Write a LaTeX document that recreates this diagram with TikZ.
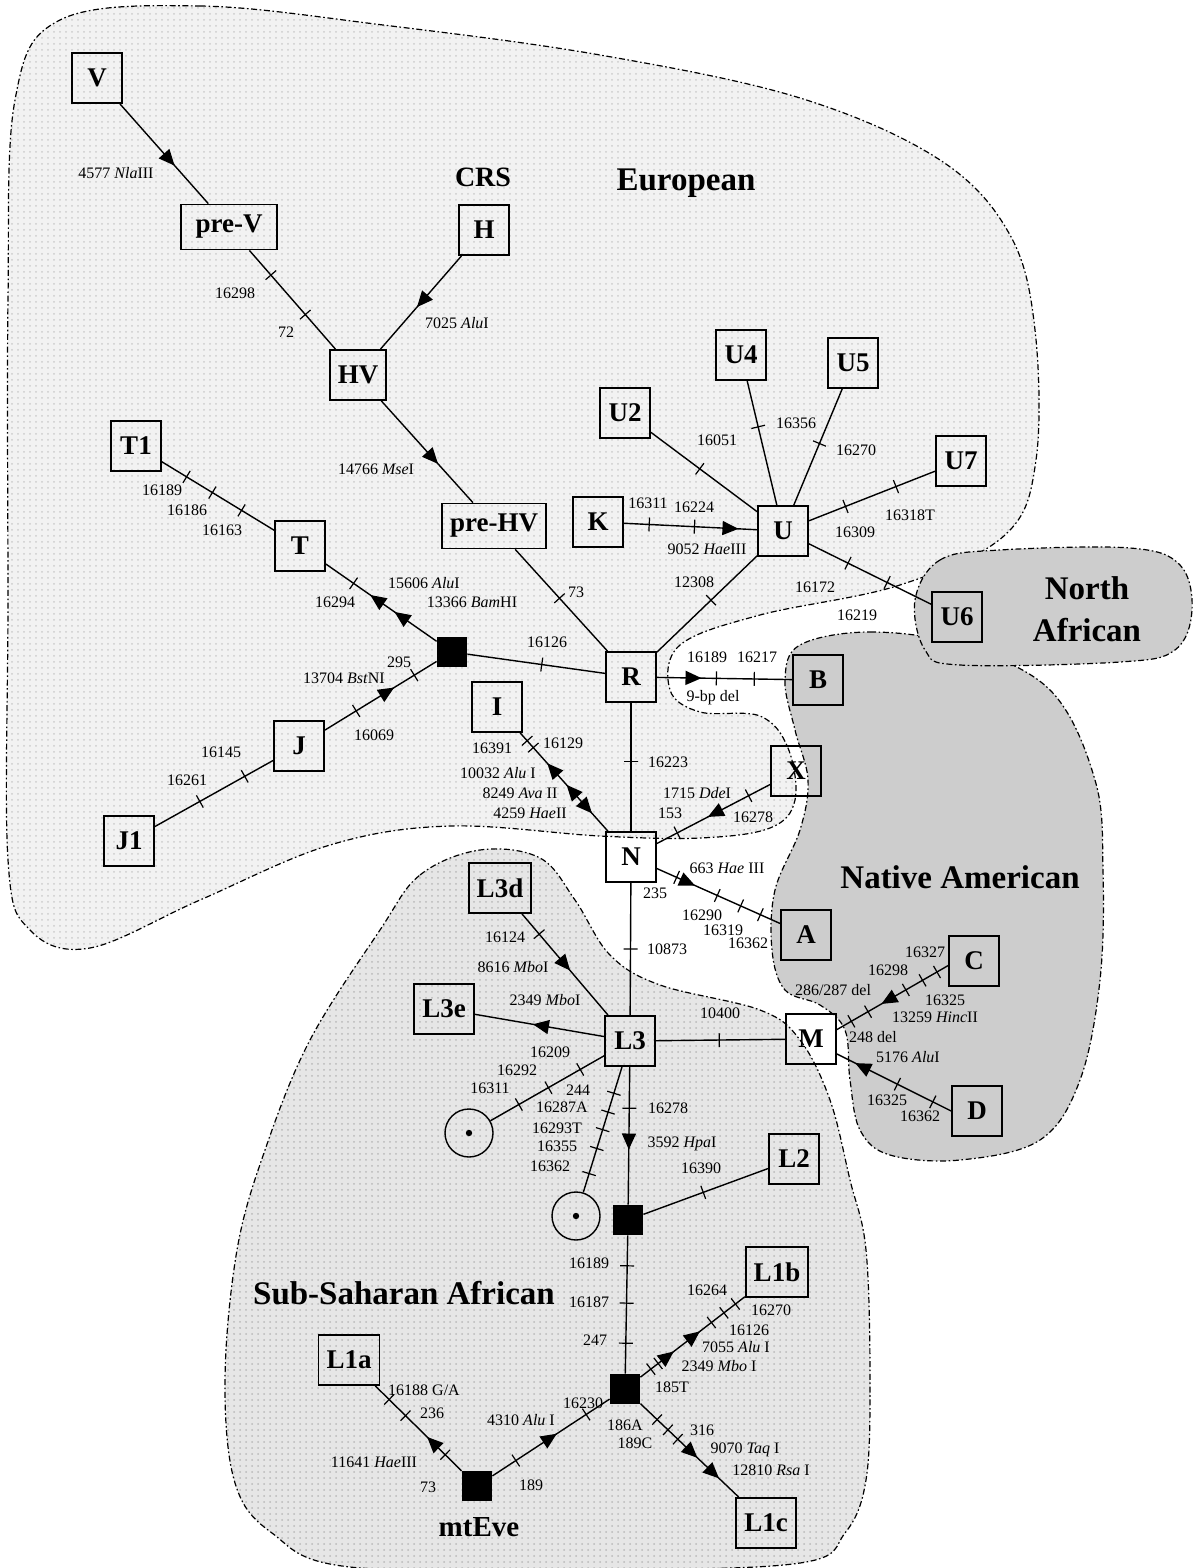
\documentclass[tikz,border=0pt]{standalone}
\usepackage{fontspec}
\setmainfont{Liberation Serif}
\usetikzlibrary{arrows.meta,decorations.markings,patterns}

\definecolor{euroFill}{RGB}{242,242,242}
\definecolor{afroFill}{RGB}{230,230,230}
\definecolor{amerFill}{RGB}{205,205,205}

\tikzset{
  hap/.style={draw, line width=0.9pt, minimum width=25pt, minimum height=25pt, inner sep=4pt,
    font=\fontsize{13.5}{15}\selectfont\bfseries},
  blk/.style={fill=black, minimum size=15pt, inner sep=0pt},
  ring/.style={draw, circle, line width=0.7pt, minimum size=24pt, inner sep=0pt},
  tk/.style={draw, sloped, line width=0.6pt, inner sep=0pt, minimum width=0pt, minimum height=7pt},
  lbl/.style={font=\fontsize{8}{9}\selectfont, inner sep=0pt},
  reg/.style={font=\fontsize{16.5}{21}\selectfont\bfseries, align=center},
  zone/.style={line width=0.6pt, dash pattern=on 3pt off 1.3pt on 0.8pt off 1.3pt},
  link/.style={line width=0.7pt},
  arw/.style={postaction={decorate, decoration={markings,
      mark=at position #1 with {\arrow{Triangle[length=8pt,width=7pt]}}}}},
  arwr/.style={postaction={decorate, decoration={markings,
      mark=at position #1 with {\arrowreversed{Triangle[length=8pt,width=7pt]}}}}}
}

\begin{document}
\begin{tikzpicture}[x=0.5pt, y=-0.5pt]
\useasboundingbox (0,0) rectangle (1195,1568);

% regions
\draw[zone, preaction={fill=euroFill}, pattern=dots, pattern color=gray!40]
  plot[smooth cycle, tension=0.6] coordinates {(60,20) (200,6) (383,25) (600,55) (800,98) (940,160)
  (1010,235) (1035,330) (1036,460) (1005,535) (900,585) (760,615) (680,645) (670,690) (700,712)
  (760,716) (788,748) (795,800) (770,828) (700,838) (600,836) (450,826) (330,845) (200,900)
  (90,948) (30,930) (8,860) (8,600) (8,300) (15,100)};
\draw[zone, preaction={fill=afroFill}, pattern=dots, pattern color=gray!55]
  plot[smooth cycle, tension=0.6] coordinates {(380,930) (420,875) (480,850) (540,858) (575,900)
  (610,955) (660,985) (760,1010) (800,1040) (830,1100) (850,1180) (866,1250) (870,1380) (866,1480)
  (845,1533) (800,1563) (600,1570) (350,1567) (272,1533) (235,1483) (225,1380) (237,1250)
  (265,1150) (310,1040)};
\draw[zone, fill=amerFill]
  plot[smooth cycle, tension=0.6] coordinates {(800,645) (870,632) (960,645) (1050,690) (1095,780)
  (1103,870) (1100,980) (1080,1080) (1040,1140) (960,1160) (890,1155) (860,1130) (850,1080)
  (845,1030) (820,1005) (785,990) (772,950) (775,890) (800,830) (808,780) (795,730) (785,680)};
\draw[zone, fill=amerFill]
  plot[smooth cycle, tension=0.6] coordinates {(915,600) (940,560) (1000,550) (1130,548) (1180,565)
  (1192,610) (1175,650) (1120,662) (960,665) (925,650)};

% haplogroups
\node[hap] (V) at (97,78) {V};
\node[hap, minimum width=48pt, minimum height=22.5pt] (preV) at (229,227) {pre-V};
\node[hap] (H) at (484,230) {H};
\node[hap] (HV) at (358,375) {HV};
\node[hap] (U4) at (741,355) {U4};
\node[hap] (U5) at (853,363) {U5};
\node[hap] (U2) at (625,413) {U2};
\node[hap] (T1) at (136,446) {T1};
\node[hap] (U7) at (961,461) {U7};
\node[hap] (K) at (598,522) {K};
\node[hap] (U) at (783,531) {U};
\node[hap, minimum height=22.5pt] (preHV) at (494,526) {pre-HV};
\node[hap] (T) at (300,546) {T};
\node[hap] (U6) at (957,617) {U6};
\node[blk] (sq1) at (452,652) {};
\node[hap] (R) at (631,677) {R};
\node[hap] (B) at (818,680) {B};
\node[hap] (I) at (497,707) {I};
\node[hap] (J) at (299,746) {J};
\node[hap] (X) at (796,771) {X};
\node[hap] (J1) at (129,841) {J1};
\node[hap] (N) at (631,857) {N};
\node[hap] (L3d) at (500,888) {L3d};
\node[hap] (A) at (806,935) {A};
\node[hap] (C) at (974,961) {C};
\node[hap] (L3e) at (444,1009) {L3e};
\node[hap] (L3) at (630,1041) {L3};
\node[hap] (M) at (811,1039) {M};
\node[hap] (D) at (977,1111) {D};
\node[ring] (c1) at (469,1133) {};
\node[ring] (c2) at (576,1216) {};
\fill (c1) circle (1.6pt) (c2) circle (1.6pt);
\node[hap] (L2) at (794,1159) {L2};
\node[blk] (sq2) at (628,1220) {};
\node[hap] (L1b) at (777,1272) {L1b};
\node[hap] (L1a) at (349,1360) {L1a};
\node[blk] (sq3) at (625,1389) {};
\node[blk] (eve) at (477,1486) {};
\node[hap] (L1c) at (766,1523) {L1c};

% region names
\node[reg, font=\fontsize{14}{16}\selectfont\bfseries] (crs) at (483,177) {CRS};
\node[reg] (eur) at (686,183) {European};
\node[reg] (naf) at (1087,609) {North\\African};
\node[reg] (nam) at (960,877) {Native American};
\node[reg] (ssa) at (404,1293) {Sub-Saharan African};
\node[reg, font=\fontsize{14.5}{16}\selectfont\bfseries] (evename) at (479,1527) {mtEve};

% links
\draw[link, arw=.62] (V) -- (preV);
\draw[link] (preV) -- (HV) node[tk,pos=.25]{} node[tk,pos=.65]{};
\draw[link, arw=.55] (H) -- (HV);
\draw[link, arw=.62] (HV) -- (preHV);
\draw[link] (preHV) -- (R) node[tk,pos=.48]{};
\draw[link, arw=.86] (K) -- (U) node[tk,pos=.19]{} node[tk,pos=.53]{};
\draw[link] (U2) -- (U) node[tk,pos=.46]{};
\draw[link] (U4) -- (U) node[tk,pos=.37]{};
\draw[link] (U5) -- (U) node[tk,pos=.47]{};
\draw[link] (U7) -- (U) node[tk,pos=.31]{} node[tk,pos=.71]{};
\draw[link] (U) -- (U6) node[tk,pos=.32]{} node[tk,pos=.64]{};
\draw[link] (U) -- (R) node[tk,pos=.46]{};
\draw[link] (sq1) -- (R) node[tk,pos=.54]{};
\draw[link, arw=.38, arw=.6] (sq1) -- (T) node[tk,pos=.75]{};
\draw[link] (T1) -- (T) node[tk,pos=.22]{} node[tk,pos=.45]{} node[tk,pos=.71]{};
\draw[link, arw=.62] (J) -- (sq1) node[tk,pos=.28]{} node[tk,pos=.8]{};
\draw[link] (J1) -- (J) node[tk,pos=.38]{} node[tk,pos=.76]{};
\draw[link, arwr=.31, arwr=.53, arw=.82] (I) -- (N) node[tk,pos=.08]{} node[tk,pos=.15]{};
\draw[link] (R) -- (N) node[tk,pos=.46]{};
\draw[link, arw=.33] (R) -- (B) node[tk,pos=.44]{} node[tk,pos=.72]{};
\draw[link, arw=.55] (X) -- (N) node[tk,pos=.19]{} node[tk,pos=.82]{};
\draw[link, arw=.31] (N) -- (A) node[tk,pos=.16]{} node[tk,pos=.49]{} node[tk,pos=.68]{} node[tk,pos=.84]{};
\draw[link] (N) -- (L3) node[tk,pos=.5]{};
\draw[link, arw=.56] (L3d) -- (L3) node[tk,pos=.2]{};
\draw[link, arw=.55] (L3) -- (L3e);
\draw[link] (L3) -- (M) node[tk,pos=.49]{};
\draw[link] (L3) -- (c1) node[tk,pos=.21]{} node[tk,pos=.49]{} node[tk,pos=.75]{};
\draw[link] (L3) -- (c2) node[tk,pos=.21]{} node[tk,pos=.36]{} node[tk,pos=.5]{} node[tk,pos=.65]{} node[tk,pos=.85]{};
\draw[link, arw=.6] (L3) -- (sq2) node[tk,pos=.3]{};
\draw[link] (sq2) -- (L2) node[tk,pos=.48]{};
\draw[link] (sq2) -- (sq3) node[tk,pos=.22]{} node[tk,pos=.49]{} node[tk,pos=.78]{};
\draw[link, arw=.4] (eve) -- (L1a) node[tk,pos=.19]{} node[tk,pos=.65]{} node[tk,pos=.84]{};
\draw[link, arw=.55] (eve) -- (sq3) node[tk,pos=.2]{} node[tk,pos=.8]{};
\draw[link, arw=.32, arw=.57] (sq3) -- (L1b) node[tk,pos=.1]{} node[tk,pos=.17]{} node[tk,pos=.68]{} node[tk,pos=.8]{} node[tk,pos=.91]{};
\draw[link, arw=.58, arw=.8] (sq3) -- (L1c) node[tk,pos=.17]{} node[tk,pos=.28]{} node[tk,pos=.38]{};
\draw[link, arw=.6] (C.190) -- (M.20) node[tk,pos=.1]{} node[tk,pos=.23]{} node[tk,pos=.38]{} node[tk,pos=.72]{} node[tk,pos=.87]{};
\draw[link, arw=.84] (D.west) -- (M.-30) node[tk,pos=.16]{} node[tk,pos=.47]{};

% mutation labels
\foreach \nm/\x/\y/\t in {
  m4577/116/173/{4577 \textit{Nla}III}, m16298a/235/293/16298, m72/286/332/72,
  m7025/457/323/{7025 \textit{Alu}I}, m14766/376/469/{14766 \textit{Mse}I}, m73a/576/592/73,
  m16311a/648/503/16311, m16224/694/507/16224, m9052/707/549/{9052 \textit{Hae}III},
  m16051/717/440/16051, m16356/796/423/16356, m16270a/856/450/16270,
  m16318/910/515/16318T, m16309/855/532/16309, m16172/815/587/16172, m16219/857/615/16219,
  m12308/694/582/12308, m16126a/547/642/16126, m15606/424/583/{15606 \textit{Alu}I},
  m13366/472/602/{13366 \textit{Bam}HI}, m16294/335/602/16294,
  m16189a/162/490/16189, m16186/187/510/16186, m16163/222/530/16163,
  m16069/374/735/16069, m295/399/662/295, m13704/344/678/{13704 \textit{Bst}NI},
  m16261/187/780/16261, m16145/221/752/16145,
  m16391/492/748/16391, m16129/563/743/16129, m10032/498/773/{10032 \textit{Alu} I},
  m8249/520/793/{8249 \textit{Ava} II}, m4259/530/813/{4259 \textit{Hae}II},
  m16223/668/762/16223, m16189b/707/657/16189, m16217/757/657/16217, m9bp/713/698/{9-bp del},
  m1715/697/793/{1715 \textit{Dde}I}, m153/670/813/153, m16278a/753/817/16278,
  m663/727/868/{663 \textit{Hae} III}, m235/655/893/235, m16290/702/915/16290,
  m16319/723/930/16319, m16362a/748/943/16362, m10873/667/949/10873,
  m16124/505/937/16124, m8616/513/967/{8616 \textit{Mbo}I}, m2349a/545/1000/{2349 \textit{Mbo}I},
  m10400/720/1013/10400, m16209/550/1052/16209, m16292/517/1070/16292, m16311b/490/1088/16311,
  m244/578/1090/244, m16287/562/1107/16287A, m16293/557/1128/16293T, m16355/557/1146/16355,
  m16362b/550/1166/16362, m16278b/668/1108/16278, m3592/682/1144/{3592 \textit{Hpa}I},
  m16390/701/1168/16390, m16189c/589/1263/16189, m16187/589/1302/16187, m247/595/1340/247,
  m16188/424/1390/{16188 G/A}, m236/432/1413/236, m11641/374/1462/{11641 \textit{Hae}III},
  m73b/428/1487/73, m189/531/1485/189, m4310/521/1420/{4310 \textit{Alu} I}, m16230/583/1403/16230,
  m185/672/1387/185T, m2349b/719/1366/{2349 \textit{Mbo} I}, m7055/736/1347/{7055 \textit{Alu} I},
  m16126b/749/1330/16126, m16270b/771/1310/16270, m16264/707/1290/16264,
  m186/625/1425/186A, m189c/635/1443/189C, m316/702/1430/316,
  m9070/745/1450/{9070 \textit{Taq} I}, m12810/771/1470/{12810 \textit{Rsa} I},
  m16327/925/952/16327, m16298b/888/970/16298, m16325a/945/1000/16325,
  m13259/935/1017/{13259 \textit{Hinc}II}, m286/833/990/{286/287 del}, m248/873/1037/{248 del},
  m5176/908/1057/{5176 \textit{Alu}I}, m16325b/887/1100/16325, m16362c/920/1116/16362}
  \node[lbl] (\nm) at (\x,\y) {\t};

\end{tikzpicture}
\end{document}
